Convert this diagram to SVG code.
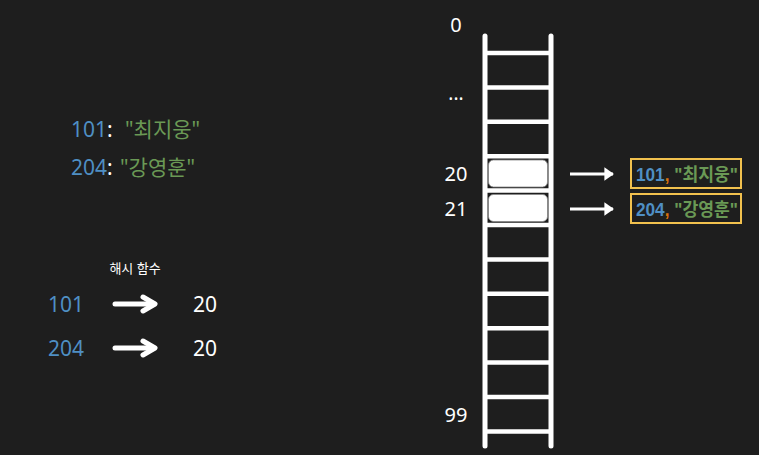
<svg xmlns="http://www.w3.org/2000/svg" width="759" height="455" viewBox="0 0 759 455">
<defs>
<style>
.t{font-family:"Noto Sans","Noto Sans CJK KR",sans-serif;fill:#ffffff}
.b{fill:#4f8fc4}
.g{fill:#6a9955}
.o{fill:#d8720c}
.bx{font-family:"Liberation Sans","Noto Sans CJK KR",sans-serif;font-weight:bold;font-size:18px}
.rail{stroke:#ffffff;stroke-width:5;stroke-linecap:round;fill:none}
.rung{stroke:#ffffff;stroke-width:4.5;fill:none}
.cell{fill:#ffffff;stroke:#888;stroke-width:0.8}
.ybox{fill:none;stroke:#f2c14e;stroke-width:2}
.arr{stroke:#ffffff;stroke-width:5;stroke-linecap:round;stroke-linejoin:round;fill:none}
.sarr{stroke:#ffffff;stroke-width:3;fill:none}
</style>
<marker id="tri" viewBox="0 0 10 14" refX="9" refY="7" markerWidth="3.2" markerHeight="4.6" orient="auto" markerUnits="strokeWidth"><path d="M0,0 L10,7 L0,14 z" fill="#ffffff"/></marker>
</defs>
<rect width="759" height="455" fill="#1e1e1e"/>

<g id="records">
<text class="t" x="71" y="137" font-size="21"><tspan class="b">101</tspan>:</text>
<text class="t g" x="125" y="137" font-size="21">"최지웅"</text>
<text class="t" x="71" y="175" font-size="21"><tspan class="b">204</tspan>:</text>
<text class="t g" x="120" y="175" font-size="21">"강영훈"</text>
</g>

<g id="hashfn">
<text class="t" x="135" y="273" font-size="13" text-anchor="middle">해시 함수</text>
<text class="t b" x="48" y="312" font-size="21">101</text>
<text class="t" x="193" y="312" font-size="21">20</text>
<text class="t b" x="48" y="356" font-size="21">204</text>
<text class="t" x="193" y="356" font-size="21">20</text>
</g>

<g id="table">
<line class="rail" x1="485" y1="36" x2="485" y2="446"/>
<line class="rail" x1="551" y1="36" x2="551" y2="446"/>
<line class="rung" x1="485" y1="53" x2="551" y2="53"/>
<line class="rung" x1="485" y1="87.4" x2="551" y2="87.4"/>
<line class="rung" x1="485" y1="121.8" x2="551" y2="121.8"/>
<line class="rung" x1="485" y1="156.2" x2="551" y2="156.2"/>
<line class="rung" x1="485" y1="190.6" x2="551" y2="190.6"/>
<line class="rung" x1="485" y1="225" x2="551" y2="225"/>
<line class="rung" x1="485" y1="259.4" x2="551" y2="259.4"/>
<line class="rung" x1="485" y1="293.8" x2="551" y2="293.8"/>
<line class="rung" x1="485" y1="328.2" x2="551" y2="328.2"/>
<line class="rung" x1="485" y1="362.6" x2="551" y2="362.6"/>
<line class="rung" x1="485" y1="397" x2="551" y2="397"/>
<line class="rung" x1="485" y1="431.4" x2="551" y2="431.4"/>
<rect id="cell20" class="cell" x="488.5" y="160" width="59" height="27" rx="5"/>
<rect id="cell21" class="cell" x="488.5" y="194.5" width="59" height="27" rx="5"/>
<text class="t" x="456" y="32" font-size="20" text-anchor="middle">0</text>
<text class="t" x="456" y="100" font-size="19" text-anchor="middle">...</text>
<text class="t" x="456" y="181" font-size="20" text-anchor="middle">20</text>
<text class="t" x="456" y="216" font-size="20" text-anchor="middle">21</text>
<text class="t" x="456" y="422" font-size="20" text-anchor="middle">99</text>
</g>

<g id="entry101">
<rect class="ybox" x="631" y="159" width="110" height="29"/>
<text class="bx" x="636" y="181" textLength="102" lengthAdjust="spacingAndGlyphs"><tspan class="b">101</tspan><tspan class="o">,</tspan><tspan class="g"> "최지웅"</tspan></text>
</g>
<g id="entry204">
<rect class="ybox" x="631" y="194" width="110" height="29"/>
<text class="bx" x="636" y="216" textLength="102" lengthAdjust="spacingAndGlyphs"><tspan class="b">204</tspan><tspan class="o">,</tspan><tspan class="g"> "강영훈"</tspan></text>
</g>

<g id="connectors">
<line class="arr" x1="115" y1="304" x2="154" y2="304"/>
<polyline class="arr" points="143,297 155,304 143,311"/>
<line class="arr" x1="115" y1="348" x2="154" y2="348"/>
<polyline class="arr" points="143,341 155,348 143,355"/>
<line class="sarr" x1="570" y1="174" x2="613" y2="174" marker-end="url(#tri)"/>
<line class="sarr" x1="570" y1="209" x2="613" y2="209" marker-end="url(#tri)"/>
</g>
</svg>
